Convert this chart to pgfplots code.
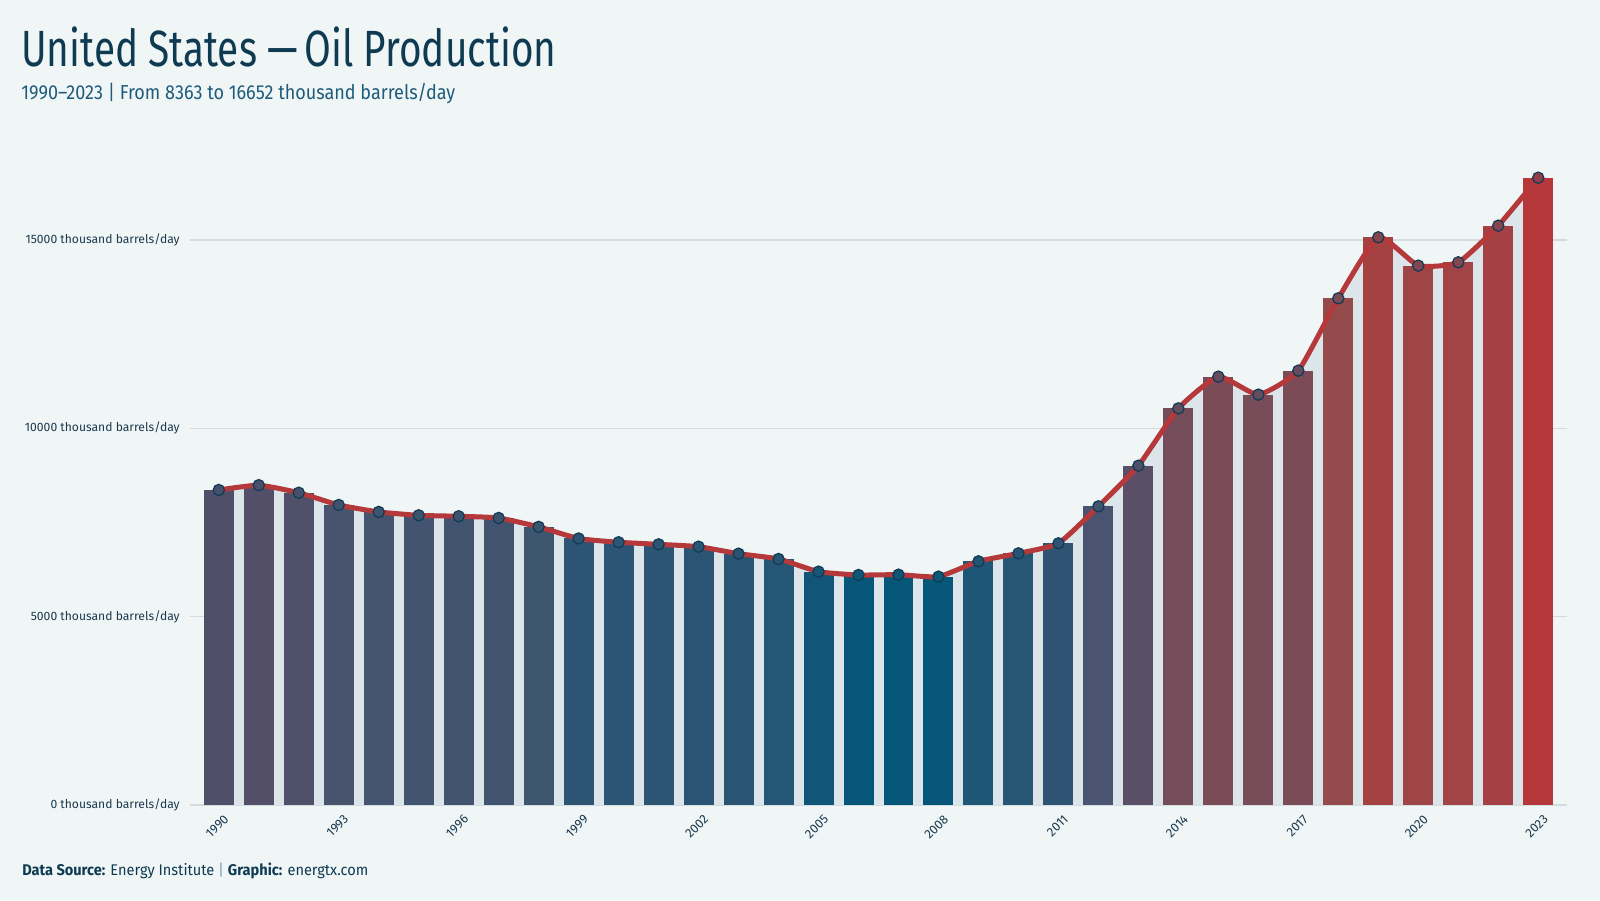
\documentclass[border=0pt]{standalone}
\usepackage{pgfplots}
\pgfplotsset{compat=1.18}
\usepackage{pgfplotstable}
\usepackage{graphicx}
\usepackage{fontspec}
\setmainfont{Fira Sans}

\definecolor{bg}{HTML}{F0F5F5}
\definecolor{titlec}{HTML}{0E3A52}
\definecolor{subc}{HTML}{1F5B7C}
\definecolor{tickc}{HTML}{1A3A50}
\definecolor{gridc}{HTML}{D3DDDF}
\definecolor{areac}{HTML}{DBE5EA}
\definecolor{linec}{HTML}{B5383A}
\definecolor{markdraw}{HTML}{0F3C55}
\definecolor{mixc}{HTML}{2A5070}
\definecolor{sepc}{HTML}{7A9AAA}

\definecolor{bc0}{HTML}{504F69}
\definecolor{bc1}{HTML}{534F69}
\definecolor{bc2}{HTML}{4F5069}
\definecolor{bc3}{HTML}{48546E}
\definecolor{bc4}{HTML}{45556F}
\definecolor{bc5}{HTML}{42546F}
\definecolor{bc6}{HTML}{41536E}
\definecolor{bc7}{HTML}{41536E}
\definecolor{bc8}{HTML}{3D556F}
\definecolor{bc9}{HTML}{2D5573}
\definecolor{bc10}{HTML}{2C5575}
\definecolor{bc11}{HTML}{2C5473}
\definecolor{bc12}{HTML}{2B5474}
\definecolor{bc13}{HTML}{2A5473}
\definecolor{bc14}{HTML}{255676}
\definecolor{bc15}{HTML}{115679}
\definecolor{bc16}{HTML}{055678}
\definecolor{bc17}{HTML}{055678}
\definecolor{bc18}{HTML}{055678}
\definecolor{bc19}{HTML}{1E5677}
\definecolor{bc20}{HTML}{275574}
\definecolor{bc21}{HTML}{2F5473}
\definecolor{bc22}{HTML}{4A5470}
\definecolor{bc23}{HTML}{5A4F66}
\definecolor{bc24}{HTML}{754D5A}
\definecolor{bc25}{HTML}{7B4B57}
\definecolor{bc26}{HTML}{784C58}
\definecolor{bc27}{HTML}{7B4B57}
\definecolor{bc28}{HTML}{954A4C}
\definecolor{bc29}{HTML}{A64142}
\definecolor{bc30}{HTML}{9F4548}
\definecolor{bc31}{HTML}{A24446}
\definecolor{bc32}{HTML}{A54144}
\definecolor{bc33}{HTML}{B5373A}

\pgfplotstableread{
year val
1990 8363
1991 8490
1992 8290
1993 7965
1994 7780
1995 7690
1996 7665
1997 7620
1998 7385
1999 7075
2000 6975
2001 6920
2002 6858
2003 6672
2004 6531
2005 6195
2006 6106
2007 6115
2008 6062
2009 6469
2010 6681
2011 6947
2012 7929
2013 9008
2014 10529
2015 11372
2016 10894
2017 11531
2018 13451
2019 15071
2020 14319
2021 14407
2022 15380
2023 16652
}\oil

\begin{document}
\begin{tikzpicture}
\fill[bg] (0,0) rectangle (32cm,18cm);

\node[anchor=base west, inner sep=0pt, text=titlec] at (0.42cm,16.66cm)
  {\resizebox{10.7cm}{\height}{\fontsize{29}{32}\selectfont United States —\,Oil Production}};
\node[anchor=base west, inner sep=0pt, text=subc] at (0.42cm,16.0cm)
  {\resizebox{8.68cm}{\height}{\fontsize{11.5}{13}\selectfont 1990–2023 | From 8363 to 16652 thousand barrels/day}};
\node[anchor=base west, inner sep=0pt, text=titlec] at (0.44cm,0.5cm)
  {\resizebox{6.92cm}{\height}{\fontsize{8.8}{10}\selectfont \textbf{Data Source:} Energy Institute {\color{sepc}|} \textbf{Graphic:} energtx.com}};

\begin{axis}[
  at={(3.8cm,1.9cm)}, anchor=south west,
  scale only axis, width=27.54cm, height=13.184cm,
  xmin=1989.28, xmax=2023.72, ymin=0, ymax=17500,
  axis line style={draw=none},
  major tick length=0pt,
  clip=false,
  scaled y ticks=false,
  ymajorgrids, grid style={gridc, line width=0.9pt},
  ytick={0,5000,10000,15000},
  xtick={1990,1993,...,2023},
  yticklabel={\pgfmathprintnumber{\tick} thousand barrels/day},
  yticklabel style={/pgf/number format/.cd, fixed, precision=0, 1000 sep={}, assume math mode=true,
    /tikz/.cd, font=\fontsize{6.9}{8}\selectfont, text=tickc, anchor=east, inner sep=0pt, xshift=-0.2cm},
  xticklabel style={/pgf/number format/.cd, 1000 sep={}, assume math mode=true,
    /tikz/.cd, font=\fontsize{7.2}{8}\selectfont, text=tickc, rotate=45, anchor=east, inner sep=0pt, yshift=-0.28cm, xshift=-0.06cm},
  xtick pos=bottom, ytick pos=left,
]
\addplot[fill=areac, draw=none, smooth, tension=0.3] table[x=year,y=val]{\oil} \closedcycle;
\pgfplotsinvokeforeach{0,...,33}{
  \addplot[ybar, bar width=0.75, bar shift=0pt, fill=bc#1, draw=none,
    restrict expr to domain={\coordindex}{#1:#1}] table[x=year,y=val]{\oil};
}
\addplot[color=linec, line width=2.85pt, smooth, tension=0.3] table[x=year,y=val]{\oil};
\pgfplotsinvokeforeach{0,...,33}{
  \addplot[only marks, mark=*, mark size=3.2pt,
    mark options={fill=bc#1!75!mixc, draw=markdraw, line width=0.7pt},
    restrict expr to domain={\coordindex}{#1:#1}] table[x=year,y=val]{\oil};
}
\end{axis}
\end{tikzpicture}
\end{document}
